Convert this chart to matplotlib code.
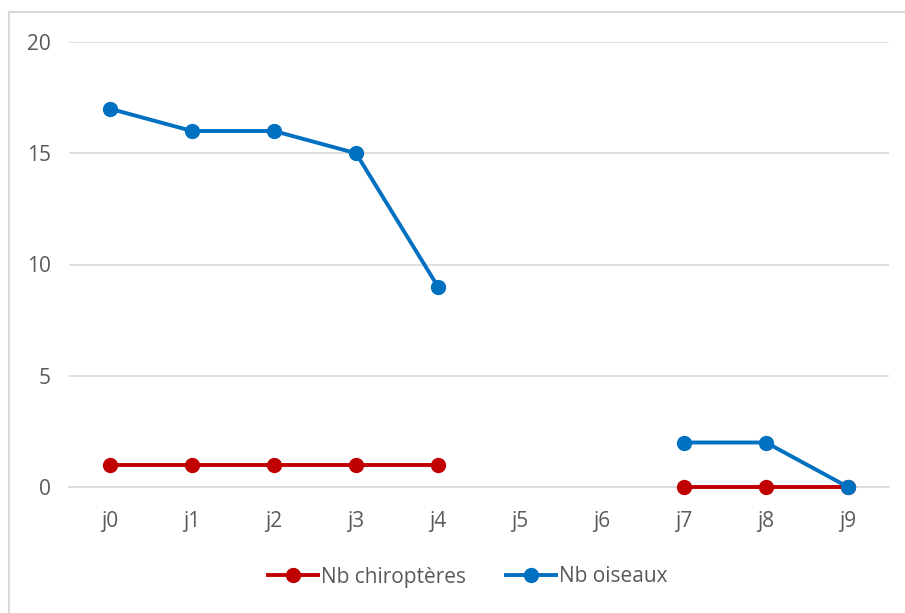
import matplotlib.pyplot as plt
import numpy as np
from matplotlib.lines import Line2D

days = ["j0", "j1", "j2", "j3", "j4", "j5", "j6", "j7", "j8", "j9"]
chiropteres = [1, 1, 1, 1, 1, np.nan, np.nan, 0, 0, 0]
oiseaux = [17, 16, 16, 15, 9, np.nan, np.nan, 2, 2, 0]

RED = "#C00000"
BLUE = "#0070C0"
GREY_TXT = "#595959"
GRID = "#D9D9D9"

plt.rcParams["font.family"] = ["Open Sans", "DejaVu Sans"]

fig = plt.figure(figsize=(9.05, 6.13), dpi=100)
ax = fig.add_axes([69 / 905, 1 - 487 / 613, 820 / 905, 445 / 613])

x = np.arange(len(days))
ax.plot(x, chiropteres, color=RED, lw=2.8, marker="o", ms=10,
        label="Nb chiroptères", clip_on=False, zorder=3)
ax.plot(x, oiseaux, color=BLUE, lw=2.8, marker="o", ms=10,
        label="Nb oiseaux", clip_on=False, zorder=4)

ax.set_xlim(-0.5, len(days) - 0.5)
ax.set_ylim(0, 20)
ax.set_yticks([0, 5, 10, 15, 20])
ax.set_xticks(x)
ax.set_xticklabels(days)
ax.yaxis.grid(True, color=GRID, lw=1.2)
ax.set_axisbelow(True)
for side in ["top", "right", "left"]:
    ax.spines[side].set_visible(False)
ax.spines["bottom"].set_color(GRID)
ax.spines["bottom"].set_linewidth(1.2)
ax.spines["bottom"].set_zorder(1)
ax.tick_params(axis="both", length=0, labelsize=15, labelcolor=GREY_TXT)
ax.tick_params(axis="y", pad=13)
ax.tick_params(axis="x", pad=17)

leg = fig.legend(loc="center", bbox_to_anchor=(468 / 905, 1 - 577 / 613),
                 ncol=2, frameon=False, fontsize=15, handlelength=2.4,
                 handletextpad=0.15, columnspacing=1.9)
for t in leg.get_texts():
    t.set_color(GREY_TXT)

# chart frame
fy = 1 - 12 / 613
fx = 9 / 905
fig.add_artist(Line2D([fx, 1], [fy, fy], transform=fig.transFigure, color=GRID, lw=1.5))
fig.add_artist(Line2D([fx, fx], [0, fy], transform=fig.transFigure, color=GRID, lw=1.5))

fig.savefig("out.png", dpi=100)
